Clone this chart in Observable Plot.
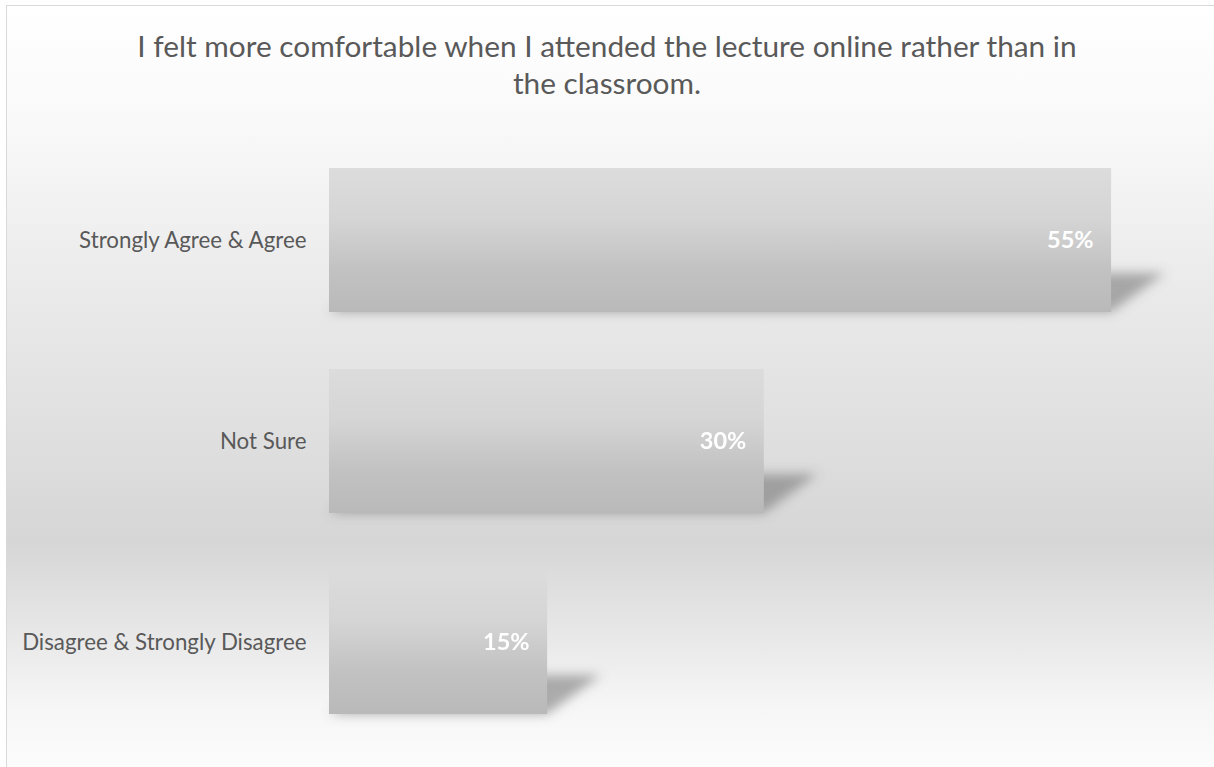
<!DOCTYPE html>
<html><head><meta charset="utf-8">
<script src="https://cdn.jsdelivr.net/npm/d3@7"></script>
<script src="https://cdn.jsdelivr.net/npm/@observablehq/plot@0.6"></script>
<style>
html,body{margin:0;padding:0;width:1214px;height:767px;overflow:hidden;background:#fff;font-family:Lato,sans-serif;}
#frame{position:absolute;left:6px;top:5px;width:1240px;height:800px;border-left:1px solid #d9d9d9;border-top:1px solid #d9d9d9;
  background:linear-gradient(to bottom,#ffffff 0px,#f9f9f9 120px,#ececec 260px,#e0e0e0 420px,#d6d6d6 535px,#e6e6e6 620px,#f6f6f6 700px,#fcfcfc 762px);}
#title{position:absolute;left:0;top:27px;width:1214px;text-align:center;font-size:29.8px;line-height:37px;color:#595959;}
#chart{position:absolute;left:0;top:0;}
</style></head><body>
<div id="frame"></div>
<div id="title">I felt more comfortable when I attended the lecture online rather than in<br>the classroom.</div>
<div id="chart"></div>
<script>
const categories = ["Strongly Agree & Agree", "Not Sure", "Disagree & Strongly Disagree"];
const values = [54.5, 30.3, 15.2];
const valueLabels = ["55%", "30%", "15%"];
const data = categories.map((c, i) => ({category: c, value: values[i], label: valueLabels[i]}));

const defs = () => {
  const d = d3.create("svg:defs");
  const g = d.append("linearGradient").attr("id", "barGrad").attr("x1", 0).attr("y1", 0).attr("x2", 0).attr("y2", 1);
  [[0, "#dcdcdc"], [0.35, "#d5d5d5"], [0.7, "#c2c2c2"], [1, "#b9b9b9"]].forEach(([o, c]) =>
    g.append("stop").attr("offset", o).attr("stop-color", c));
  const f = d.append("filter").attr("id", "blurShadow").attr("filterUnits", "userSpaceOnUse")
    .attr("x", 0).attr("y", 0).attr("width", 1214).attr("height", 767);
  f.append("feGaussianBlur").attr("stdDeviation", 5.5);
  return d.node();
};

const chart = Plot.plot({
  width: 1214, height: 767,
  marginLeft: 329, marginRight: 24, marginTop: 139, marginBottom: 25,
  style: {background: "transparent", fontFamily: "Lato, sans-serif", fontSize: "22.3px", color: "#595959", overflow: "visible"},
  x: {domain: [0, 60], axis: null},
  y: {domain: categories, paddingInner: 0.284, paddingOuter: 0.142, tickSize: 0, tickPadding: 23, label: null},
  marks: [
    defs,
    Plot.barX(data, {x: "value", y: "category", fill: "#6e6e6e", fillOpacity: 0.55, ariaDescription: "shadow"}),
    Plot.barX(data, {x: "value", y: "category", fill: "url(#barGrad)"}),
    Plot.text(data, {x: "value", y: "category", text: "label", textAnchor: "end", dx: -18, fill: "white", fontWeight: "bold", fontSize: 23.5})
  ]
});
// perspective shadow: squash and skew each shadow bar about its bottom-left corner
const sg = d3.select(chart).select('g[aria-label="bar"]').attr("filter", "url(#blurShadow)");
sg.selectAll("rect").each(function() {
  const r = d3.select(this);
  const x = +r.attr("x"), y = +r.attr("y"), h = +r.attr("height");
  const by = y + h;
  r.attr("transform", `translate(${x},${by}) skewX(-54) scale(1,0.27) translate(${-x},${-by})`);
});
document.getElementById("chart").appendChild(chart);
</script>
</body></html>
